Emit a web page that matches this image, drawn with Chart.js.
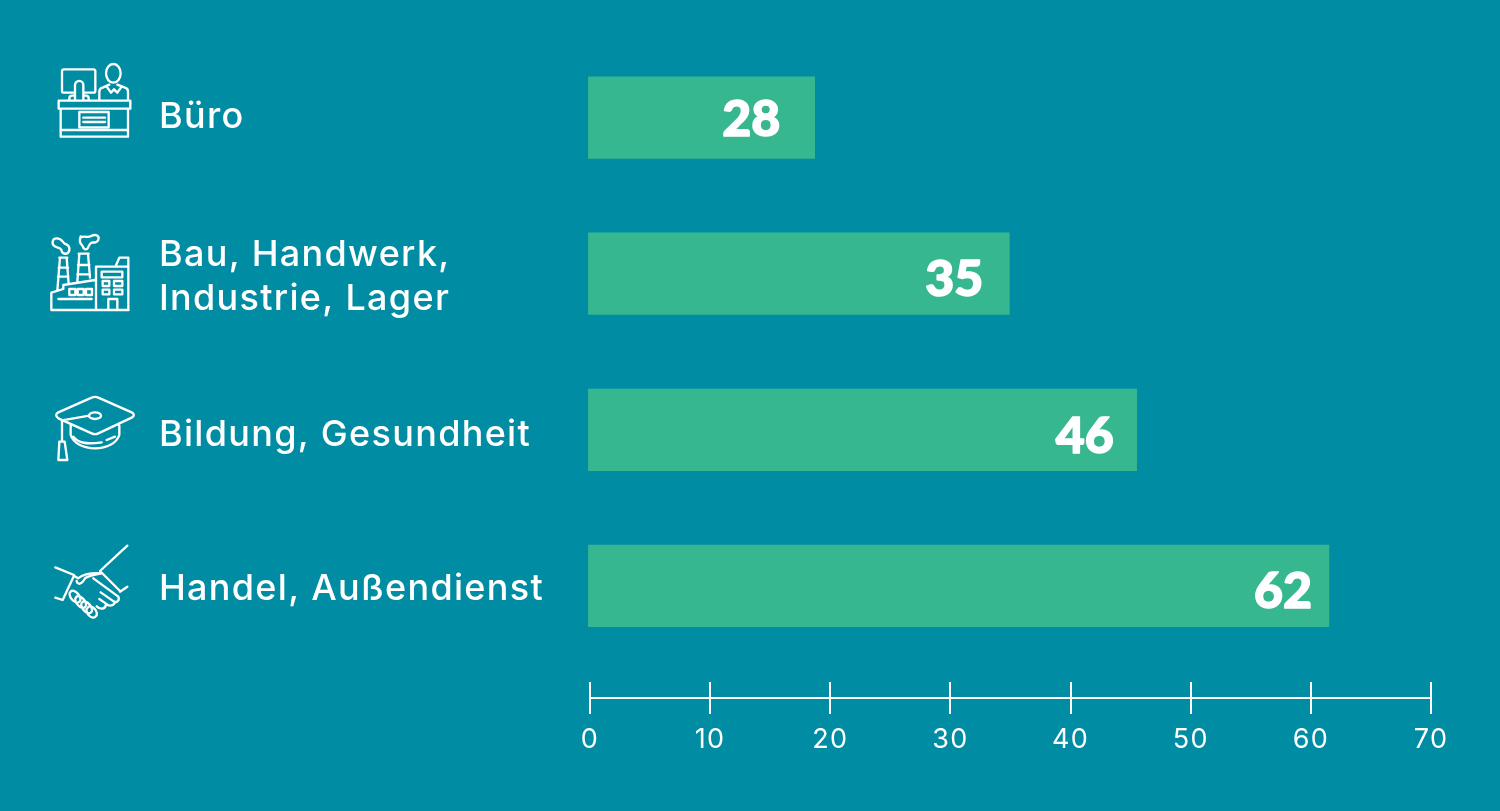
<!DOCTYPE html>
<html><head><meta charset="utf-8">
<style>html,body{margin:0;padding:0;background:#008ca3;overflow:hidden}canvas{display:block}</style>
<script src="https://cdn.jsdelivr.net/npm/chart.js@4/dist/chart.umd.min.js"></script>
</head><body>
<canvas id="c" width="1500" height="811"></canvas>
<script>
const categories = [['Büro'], ['Bau, Handwerk,', 'Industrie, Lager'], ['Bildung, Gesundheit'], ['Handel, Außendienst']];
const barValues = [18.7, 34.9, 45.5, 61.5];
const valueLabels = ['28', '35', '46', '62'];
const labelInsets = [34.5, 26, 23, 17];
const labelRises = [18.5, 22.5, 23.5, 22];
const labelShifts = [-0.5, 3.5, 5, 3.5];
const tickValues = [0, 10, 20, 30, 40, 50, 60, 70];

const FONT = 'Inter, sans-serif';
const VALUE_FONT = 'Lato, sans-serif';
const WHITE = '#ffffff';

const icons = [
 {x:40,y:50,d:"M104 128H72a6 6 0 0 1-6-6V64a6 6 0 0 1 6-6H160a6 6 0 0 1 6 6V122a6 6 0 0 1-6 6H130 M105 150V105a12 12 0 0 1 25 0V150 M88 150V145a8 8 0 0 1 8-8H105 M130 137H138a8 8 0 0 1 8 8V150 M198 70a22 28 0 1 0 44 0a22 28 0 1 0-44 0 M178 150V125a12 12 0 0 1 10-12L208 104 M200 110L213 128L222 118L232 128L245 110 M232 104L255 113a12 12 0 0 1 9 12V150 M56 152H271V176H56Z M62 176V260H264V176 M62 240H264 M118 186H206V232H118Z M130 203H195 M130 216H195"},
 {x:40,y:225,d:"M50 40c-14 0-16 18-6 24c6 4 14 2 20 10c2 16 20 16 24 2c2-12-8-18-14-20c-6-4-8-16-24-16z M122 38c10-8 20 2 30-4c10-6 24-6 24 6c0 10-10 14-18 12c-6 0-10 6-14 16c-4 8-14 6-16-4c-2-8-14-6-6-30z M60 98L52 196 M80 98L86 178 M58 98H82 M56 128H84 M54 155H85 M118 86L112 170 M144 86L150 158 M116 86H146 M114 120H148 M112 148H150 M34 255V203L70 192V180L165 165 M55 222H155 M88 192H106V210H88Z M113 192H131V210H113Z M138 192H156V210H138Z M34 255H266 M168 255V125H265V235 M226 125L238 98H265V125 M265 240V255 M185 140H247V157H185Z M188 168H208V183H188Z M222 168H247V183H222Z M188 194H208V208H188Z M222 194H247V208H222Z M205 255V222H232V255"},
 {x:40,y:385,d:"M155 38Q165 33 175 38L275 82Q288 90 275 98L175 145Q165 150 155 145L55 100Q42 90 55 82Z M147 92a18 10 0 1 0 36 0a18 10 0 1 0-36 0 M148 92L66 106V170 M58 170H74L82 225H55Z M92 122V150C100 175 130 190 165 190C200 190 230 175 238 150V122 M100 155C115 175 140 178 185 172 M200 165L225 155"},
 {x:40,y:535,d:"M262 32L180 108 M180 108L240 168 M240 170L262 155 M46 97L102 120 M102 122L68 195L46 188 M102 122L114 130C130 118 150 112 185 115C160 120 140 125 135 130C125 150 112 150 110 138 M160 130L235 185C240 195 230 205 222 200L182 172 M225 200C222 212 208 216 198 206L178 192 M198 206C198 222 182 226 170 214 M92 170A11 20 -40 1 1 118 200A11 20 -40 1 1 92 170 M109 186A11 20 -40 1 1 135 216A11 20 -40 1 1 109 186 M127 202A11 20 -40 1 1 153 232A11 20 -40 1 1 127 202 M143 218A11 18 -40 1 1 167 244A11 18 -40 1 1 143 218"}
];

const spacing = {
  id: 'spacing',
  beforeDraw(chart) { chart.ctx.letterSpacing = '1.3px'; }
};

const decor = {
  id: 'decor',
  afterDraw(chart) {
    const ctx = chart.ctx, xs = chart.scales.x;
    ctx.save();
    ctx.strokeStyle = WHITE; ctx.lineWidth = 2;
    const axisY = 698, half = 16;
    ctx.beginPath();
    ctx.moveTo(xs.getPixelForValue(tickValues[0]), axisY);
    ctx.lineTo(xs.getPixelForValue(tickValues[tickValues.length - 1]), axisY);
    tickValues.forEach(v => {
      const px = Math.round(xs.getPixelForValue(v));
      ctx.moveTo(px, axisY - half); ctx.lineTo(px, axisY + half);
    });
    ctx.stroke();
    ctx.fillStyle = WHITE;
    ctx.letterSpacing = '0px';
    ctx.font = '900 50px ' + VALUE_FONT;
    ctx.textAlign = 'right'; ctx.textBaseline = 'alphabetic';
    ctx.lineWidth = 1.5; ctx.lineJoin = 'round';
    chart.getDatasetMeta(0).data.forEach((bar, i) => {
      ctx.fillText(valueLabels[i], bar.x - labelInsets[i], bar.y + labelRises[i]);
      ctx.strokeText(valueLabels[i], bar.x - labelInsets[i], bar.y + labelRises[i]);
    });
    ctx.lineWidth = 7; ctx.lineJoin = 'round'; ctx.lineCap = 'round';
    icons.forEach(ic => {
      ctx.save();
      ctx.translate(ic.x, ic.y); ctx.scale(1/3, 1/3);
      ctx.stroke(new Path2D(ic.d));
      ctx.restore();
    });
    ctx.restore();
  }
};

new Chart(document.getElementById('c'), {
  type: 'bar',
  data: {
    labels: categories,
    datasets: [{
      data: barValues,
      backgroundColor: '#37b78f',
      base: -0.13,
      clip: false,
      barThickness: 81.5
    }]
  },
  plugins: [spacing, decor],
  options: {
    indexAxis: 'y',
    responsive: false,
    animation: false,
    devicePixelRatio: 1,
    layout: { padding: { left: 159, right: 69, top: 39.5, bottom: 0 } },
    plugins: { legend: { display: false }, tooltip: { enabled: false } },
    scales: {
      x: {
        type: 'linear', position: 'bottom', min: 0, max: 70,
        afterBuildTicks(s) { s.ticks = tickValues.map(v => ({ value: v })); },
        afterFit(s) { s.height = 147; s.paddingLeft = 0; s.paddingRight = 0; },
        grid: { display: false, drawTicks: false },
        border: { display: false },
        ticks: { color: WHITE, padding: 60, maxRotation: 0, autoSkip: false,
                 font: { family: FONT, size: 27, weight: '400' } }
      },
      y: {
        type: 'category',
        afterFit(s) { s.width = 431; s.paddingTop = 0; s.paddingBottom = 0; },
        afterUpdate(s) {
          if (s.shiftedTicks) return;
          s.shiftedTicks = true;
          const base = s.getPixelForTick;
          s.getPixelForTick = i => base.call(s, i) + labelShifts[i];
        },
        grid: { display: false, drawTicks: false },
        border: { display: false },
        ticks: { color: WHITE, crossAlign: 'far', autoSkip: false,
                 font: { family: FONT, size: 36, weight: '500', lineHeight: 1.22 } }
      }
    }
  }
});
</script>
</body></html>
